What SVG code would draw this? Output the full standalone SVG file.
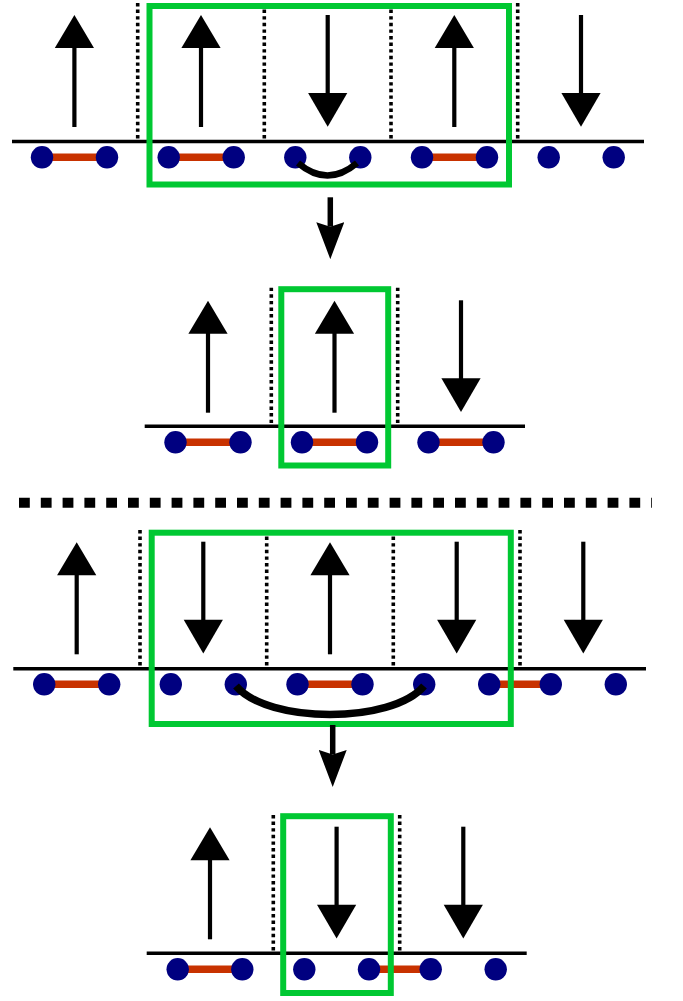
<svg xmlns="http://www.w3.org/2000/svg" xmlns:xlink="http://www.w3.org/1999/xlink" width="683" height="1001" viewBox="0 0 683 1001">
<style>
.axis{stroke:#000;stroke-width:3.5;fill:none}
.wall{stroke:#000;stroke-width:3.6;stroke-dasharray:3.4 3.2;fill:none}
.box{stroke:#00c832;stroke-width:6;fill:none}
.bond{stroke:#c83200;stroke-width:7.5;fill:none}
.site{fill:#000080}
.arc{stroke:#000;fill:none;stroke-linecap:butt}
.shaft{stroke:#000;stroke-width:4.2}
.head{fill:#000}
.conn{stroke:#000;stroke-width:5.5;fill:none}
.sep{stroke:#000;stroke-width:10;stroke-dasharray:10.8 11;fill:none}
</style>
<defs>
<g id="up"><line class="shaft" x1="0" y1="30" x2="0" y2="112"/><polygon class="head" points="0,0 -19.6,33 19.6,33"/></g>
<g id="down"><line class="shaft" x1="0" y1="0" x2="0" y2="81"/><polygon class="head" points="-19.6,78 19.6,78 0,111.7"/></g>
<marker id="tri" markerUnits="userSpaceOnUse" viewBox="0 -14 37 28" markerWidth="37" markerHeight="28" refX="4.5" refY="0" orient="auto">
<path d="M0,-14 L37,0 L0,14 L4.5,0 Z" fill="#000"/>
</marker>
</defs>
<rect width="683" height="1001" fill="#fff"/>

<g id="row1">
<line class="axis" x1="12" y1="141.5" x2="644" y2="141.5"/>
<g class="wall"><line x1="137.7" y1="3" x2="137.7" y2="141"/><line x1="264.3" y1="3" x2="264.3" y2="141"/><line x1="391" y1="3" x2="391" y2="141"/><line x1="517.7" y1="3" x2="517.7" y2="141"/></g>
<use xlink:href="#up" x="74.4" y="15"/>
<use xlink:href="#up" x="201" y="15"/>
<use xlink:href="#down" x="327.7" y="15"/>
<use xlink:href="#up" x="454.3" y="15"/>
<use xlink:href="#down" x="581" y="15"/>
<g class="bond"><line x1="42" y1="157.3" x2="107" y2="157.3"/><line x1="168.7" y1="157.3" x2="233.7" y2="157.3"/><line x1="422" y1="157.3" x2="487" y2="157.3"/></g>
<g class="site"><circle cx="42" cy="157.3" r="11.2"/><circle cx="107" cy="157.3" r="11.2"/><circle cx="168.7" cy="157.3" r="11.2"/><circle cx="233.7" cy="157.3" r="11.2"/><circle cx="295.3" cy="157.3" r="11.2"/><circle cx="360.3" cy="157.3" r="11.2"/><circle cx="422" cy="157.3" r="11.2"/><circle cx="487" cy="157.3" r="11.2"/><circle cx="548.7" cy="157.3" r="11.2"/><circle cx="613.7" cy="157.3" r="11.2"/></g>
<path class="arc" stroke-width="6.3" d="M298,163 Q327.5,188 357,163"/>
<rect class="box" x="149.5" y="6" width="359.5" height="178.5"/>
</g>

<g id="row2">
<line class="axis" x1="144.7" y1="426.3" x2="525" y2="426.3"/>
<g class="wall"><line x1="271.3" y1="287.7" x2="271.3" y2="426"/><line x1="397.7" y1="287.7" x2="397.7" y2="426"/></g>
<use xlink:href="#up" x="208" y="300.7"/>
<use xlink:href="#up" x="334.5" y="300.7"/>
<use xlink:href="#down" x="461" y="300.3"/>
<g class="bond"><line x1="175.5" y1="442.3" x2="240.5" y2="442.3"/><line x1="302" y1="442.3" x2="367" y2="442.3"/><line x1="428.5" y1="442.3" x2="493.5" y2="442.3"/></g>
<g class="site"><circle cx="175.5" cy="442.3" r="11.2"/><circle cx="240.5" cy="442.3" r="11.2"/><circle cx="302" cy="442.3" r="11.2"/><circle cx="367" cy="442.3" r="11.2"/><circle cx="428.5" cy="442.3" r="11.2"/><circle cx="493.5" cy="442.3" r="11.2"/></g>
<rect class="box" stroke-width="5.2" x="281.3" y="289.2" width="106.9" height="176.3"/>
</g>

<g id="separator">
<line class="sep" x1="19" y1="502.7" x2="652" y2="502.7"/>
</g>

<g id="row3">
<line class="axis" x1="13.3" y1="668.7" x2="646" y2="668.7"/>
<g class="wall"><line x1="140" y1="530" x2="140" y2="668.5"/><line x1="266.7" y1="530" x2="266.7" y2="668.5"/><line x1="393.3" y1="530" x2="393.3" y2="668.5"/><line x1="520" y1="530" x2="520" y2="668.5"/></g>
<use xlink:href="#up" x="76.7" y="542.3"/>
<use xlink:href="#down" x="203.3" y="541.7"/>
<use xlink:href="#up" x="330" y="542.3"/>
<use xlink:href="#down" x="456.7" y="541.7"/>
<use xlink:href="#down" x="583.3" y="541.7"/>
<g class="bond"><line x1="44.2" y1="684.3" x2="109.2" y2="684.3"/><line x1="297.5" y1="684.3" x2="362.5" y2="684.3"/><line x1="489.2" y1="684.3" x2="550.8" y2="684.3"/></g>
<g class="site"><circle cx="44.2" cy="684.3" r="11.2"/><circle cx="109.2" cy="684.3" r="11.2"/><circle cx="170.8" cy="684.3" r="11.2"/><circle cx="235.8" cy="684.3" r="11.2"/><circle cx="297.5" cy="684.3" r="11.2"/><circle cx="362.5" cy="684.3" r="11.2"/><circle cx="424.2" cy="684.3" r="11.2"/><circle cx="489.2" cy="684.3" r="11.2"/><circle cx="550.8" cy="684.3" r="11.2"/><circle cx="615.8" cy="684.3" r="11.2"/></g>
<path class="arc" stroke-width="7.5" d="M236,686 C268,724 392,724 424,686"/>
<rect class="box" stroke-width="6.5" x="151.7" y="532.7" width="359.1" height="191.3"/>
</g>

<g id="row4">
<line class="axis" x1="146.7" y1="953.3" x2="526.7" y2="953.3"/>
<g class="wall"><line x1="273.3" y1="815" x2="273.3" y2="953"/><line x1="399.7" y1="815" x2="399.7" y2="953"/></g>
<use xlink:href="#up" x="210" y="827.3"/>
<use xlink:href="#down" x="336.6" y="826.7"/>
<use xlink:href="#down" x="463.3" y="826.7"/>
<g class="bond"><line x1="177.7" y1="969.3" x2="242.3" y2="969.3"/><line x1="369" y1="969.3" x2="430.7" y2="969.3"/></g>
<g class="site"><circle cx="177.7" cy="969.3" r="11.2"/><circle cx="242.3" cy="969.3" r="11.2"/><circle cx="304.3" cy="969.3" r="11.2"/><circle cx="369" cy="969.3" r="11.2"/><circle cx="430.7" cy="969.3" r="11.2"/><circle cx="495.7" cy="969.3" r="11.2"/></g>
<rect class="box" stroke-width="5.3" x="283.2" y="816.2" width="107.6" height="176.8"/>
</g>

<g id="connectors">
<line class="conn" x1="330.3" y1="197.3" x2="330.3" y2="226.7" marker-end="url(#tri)"/>
<line class="conn" x1="332.7" y1="725" x2="332.7" y2="754.5" marker-end="url(#tri)"/>
</g>
</svg>
